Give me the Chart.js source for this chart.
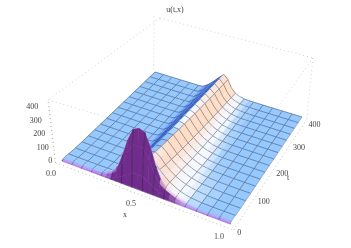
<!DOCTYPE html>
<html>
<head>
<meta charset="utf-8">
<style>
  html, body { margin: 0; padding: 0; background: #fff; }
  #wrap { width: 351px; height: 248px; }
</style>
<script src="https://cdn.jsdelivr.net/npm/chart.js@4"></script>
</head>
<body>
<div id="wrap"><canvas id="surface" width="351" height="248"></canvas></div>
<script>
const titleText = "u(t,x)";
const xLabels = ["0.0", "0.5", "1.0"];
const xLabelValues = [0, 0.5, 1];
const tTicks = [0, 100, 200, 300, 400];
const zTicks = [0, 100, 200, 300, 400];

const xValues = [0, 0.0625, 0.125, 0.1875, 0.25, 0.28125, 0.3125, 0.34375, 0.375, 0.40625, 0.4375, 0.46875, 0.5,
  0.53125, 0.5625, 0.59375, 0.625, 0.65625, 0.6875, 0.71875, 0.75, 0.8125, 0.875, 0.9375, 1];
const tValues = [0, 2, 5, 9, 14, 20, 25, 50, 75, 100, 125, 150, 175, 200, 225, 250, 275, 300, 325, 350, 375, 400];

// u(t,x), one row per entry of tValues
const uRows = [
  [0,0,0,0,0,0,0,0,0,0,0,0,0,0,0,0,0,0,0,0,0,0,0,0,0],
  [3,3,3,4,6,8,12,23,44,71,95,105,95,72,50,32,25,15,10,6,4,3,3,3,3],
  [6,6,6,7,11,18,32,64,130,220,285,301,285,222,138,80,55,38,24,14,9,5,5,6,6],
  [8,8,8,9,12,20,41,89,185,305,395,415,397,305,185,105,62,44,29,18,11,6,7,8,8],
  [8,8,8,8,10,17,36,77,147,242,322,352,327,252,162,108,66,46,30,19,12,6,7,8,8],
  [6,6,6,6,7,11,22,44,84,144,204,244,239,194,144,105,68,47,31,19,12,6,6,6,6],
  [4,4,4,4,5,6,8,16,36,81,146,196,198,170,128,94,66,46,30,19,12,5,4,4,4],
  [1,1,1,1,1,1,2,8,35,80,135,170,178,152,112,82,58,40,27,18,11,4,1,1,1],
  [0,0,0,0,0,0,1,7,33,77,130,165,170,140,102,74,52,35,22,14,8,3,0,0,0],
  [0,0,0,0,0,0,1,6,32,75,126,160,164,130,93,66,45,29,17,10,5,1,0,0,0],
  [0,0,0,0,0,0,1,5,31,74,124,158,158,122,85,58,38,23,13,7,3,1,0,0,0],
  [0,0,0,0,0,0,1,5,31,73,122,156,152,114,78,52,33,19,10,5,2,0,0,0,0],
  [0,0,0,0,0,0,1,5,30,72,120,155,147,108,72,46,28,15,8,3,1,0,0,0,0],
  [0,0,0,0,0,0,0,4,30,71,118,153,142,102,66,41,24,12,6,2,1,0,0,0,0],
  [0,0,0,0,0,0,0,4,30,70,116,151,137,96,61,36,20,10,4,2,0,0,0,0,0],
  [0,0,0,0,0,0,0,4,29,69,114,150,132,90,55,32,17,8,3,1,0,0,0,0,0],
  [0,0,0,0,0,0,0,3,29,68,112,149,128,84,50,28,14,6,2,1,0,0,0,0,0],
  [0,0,0,0,0,0,0,3,29,67,110,148,124,79,45,24,12,5,2,0,0,0,0,0,0],
  [0,0,0,0,0,0,0,3,28,66,108,147,121,74,40,21,10,4,1,0,0,0,0,0,0],
  [0,0,0,0,0,0,0,3,28,65,107,146,118,69,36,18,8,3,1,0,0,0,0,0,0],
  [0,0,0,0,0,0,0,3,28,64,106,145,115,64,31,14,6,2,1,0,0,0,0,0,0],
  [0,0,0,0,0,0,0,3,28,64,105,144,112,58,25,10,3,1,0,0,0,0,0,0,0]
];

// camera: where the corners of the box land, for (x,t) = (0,0) (1,0) (1,400) (0,400)
const floorCorners = [[62, 161], [230, 224], [302, 117], [155, 72]];
const topCorners = [[48, 100], [242, 157], [313, 58], [160, 18]];
const zTop = 450;
const tMax = 400;

function homography(p) {
  const dx1 = p[1][0] - p[2][0], dx2 = p[3][0] - p[2][0], sx = p[0][0] - p[1][0] + p[2][0] - p[3][0];
  const dy1 = p[1][1] - p[2][1], dy2 = p[3][1] - p[2][1], sy = p[0][1] - p[1][1] + p[2][1] - p[3][1];
  const det = dx1 * dy2 - dx2 * dy1;
  const g = (sx * dy2 - dx2 * sy) / det;
  const h = (dx1 * sy - sx * dy1) / det;
  const a = p[1][0] - p[0][0] + g * p[1][0], b = p[3][0] - p[0][0] + h * p[3][0];
  const d = p[1][1] - p[0][1] + g * p[1][1], e = p[3][1] - p[0][1] + h * p[3][1];
  return function (u, v) {
    const w = g * u + h * v + 1;
    return [(a * u + b * v + p[0][0]) / w, (d * u + e * v + p[0][1]) / w];
  };
}
const floorMap = homography(floorCorners);
const topMap = homography(topCorners);

function project(x, t, z) {
  const f = floorMap(x, t / tMax);
  const c = topMap(x, t / tMax);
  const k = z / zTop;
  return { x: f[0] + (c[0] - f[0]) * k, y: f[1] + (c[1] - f[1]) * k };
}

function mix(a, b, k) {
  k = Math.max(0, Math.min(1, k));
  return [a[0] + (b[0] - a[0]) * k, a[1] + (b[1] - a[1]) * k, a[2] + (b[2] - a[2]) * k];
}

// rough stand-in for the lighting, from the slope of the cell
function cellColor(sx, st) {
  let c = [150, 201, 255];
  if (sx > 0) c = mix(c, [70, 125, 250], sx / 1600);
  if (sx < 0) {
    c = mix(c, [244, 249, 255], -sx / 260);
    if (sx < -450) c = mix(c, [255, 222, 200], (-sx - 450) / 650);
  }
  if (st > 0.3) {
    const light = mix([188, 135, 240], [240, 205, 228], -sx / 500);
    const purple = mix(light, [112, 45, 140], (st - 2) / 6);
    c = mix(c, purple, (st - 0.3) / 1.2);
  } else if (st < -0.3) {
    c = mix(c, [225, 225, 250], (-st - 0.3) / 2);
  }
  return "rgb(" + c.map(Math.round).join(",") + ")";
}

function isMeshX(i) { return Number.isInteger(xValues[i] * 16); }
function isMeshT(j) { return tValues[j] % 25 === 0; }

function edge(a, b, color, width) {
  return { type: "scatter", data: [a, b], showLine: true, fill: false, borderColor: color, borderWidth: width,
    pointRadius: 0, tension: 0 };
}

function dotted(a, b, color) {
  const line = edge(a, b, color || "#c8c8c8", 0.8);
  line.borderDash = [1, 3];
  return line;
}

// box behind the surface
const boxX0 = -0.03, boxX1 = 1.03, boxT0 = -8, boxZ0 = -10;
const paintOrder = [
  dotted(project(0, tMax, zTop), project(1, tMax, zTop)),
  dotted(project(0, tMax, zTop), project(0, 0, zTop)),
  dotted(project(0, 0, zTop), project(1, 0, zTop)),
  dotted(project(1, tMax, zTop), project(1, 0, zTop)),
  dotted(project(-0.04, tMax, zTop), project(-0.01, tMax, 0)),
  dotted(project(1, tMax, zTop), project(boxX1, tMax, boxZ0)),
  dotted(project(boxX0, boxT0, boxZ0), project(0, 0, zTop), "#8c8c8c"),
  dotted(project(boxX0, boxT0, boxZ0), project(boxX1, boxT0, boxZ0), "#b0b0b0"),
  dotted(project(boxX1, boxT0, boxZ0), project(boxX1, tMax, boxZ0), "#b0b0b0")
];

const meshColor = "rgba(28,28,50,0.62)";
// far cells first
for (let j = tValues.length - 2; j >= 0; j--) {
  for (let i = 0; i < xValues.length - 1; i++) {
    const u00 = uRows[j][i], u10 = uRows[j][i + 1], u11 = uRows[j + 1][i + 1], u01 = uRows[j + 1][i];
    const x0 = xValues[i], x1 = xValues[i + 1], t0 = tValues[j], t1 = tValues[j + 1];
    const p00 = project(x0, t0, u00), p10 = project(x1, t0, u10), p11 = project(x1, t1, u11), p01 = project(x0, t1, u01);
    const sx = ((u10 + u11) - (u00 + u01)) / 2 / (x1 - x0);
    const st = ((u01 + u11) - (u00 + u10)) / 2 / (t1 - t0);
    const color = cellColor(sx, st);
    paintOrder.push({ type: "scatter", data: [p00, p10, p11, p01, p00], showLine: true, fill: "shape",
      backgroundColor: color, borderColor: color, borderWidth: 0.5, pointRadius: 0, tension: 0 });
    if (isMeshT(j + 1)) paintOrder.push(edge(p01, p11, meshColor, 0.65));
    if (isMeshX(i)) paintOrder.push(edge(p00, p01, meshColor, 0.65));
    if (j === 0) paintOrder.push(edge(p00, p10, "rgba(110,110,190,0.6)", 0.6));
    if (i === xValues.length - 2) paintOrder.push(edge(p10, p11, "rgba(90,90,120,0.5)", 0.6));
  }
}

const labelPlugin = {
  id: "axisText",
  afterDraw(chart) {
    const ctx = chart.ctx;
    const sx = chart.scales.x, sy = chart.scales.y;
    function put(text, p, dx, dy, align) {
      ctx.textAlign = align;
      ctx.fillText(text, sx.getPixelForValue(p.x) + dx, sy.getPixelForValue(p.y) + dy);
    }
    ctx.save();
    ctx.font = "8px 'Liberation Serif'";
    ctx.fillStyle = "#444";
    ctx.textBaseline = "middle";
    put(titleText, { x: 175, y: 10 }, 0, 0, "center");
    zTicks.forEach((z) => put(String(z), project(boxX0, boxT0, z), -3, 0, "right"));
    xLabels.forEach((s, i) => put(s, project(xLabelValues[i], boxT0, boxZ0), -9, 9, "center"));
    tTicks.forEach((t) => put(String(t), project(boxX1, t, boxZ0), 2, 5, "left"));
    put("x", project(0.5, boxT0, boxZ0), -15, 20, "center");
    put("t", project(boxX1, 200, boxZ0), 14, 9, "center");
    ctx.restore();
  },
};

new Chart(document.getElementById("surface"), {
  type: "scatter",
  // chart.js paints the first dataset last
  data: { datasets: paintOrder.reverse() },
  plugins: [labelPlugin],
  options: {
    responsive: false,
    animation: false,
    layout: { padding: 0 },
    scales: {
      x: { type: "linear", min: 0, max: 351, display: false },
      y: { type: "linear", min: 0, max: 248, reverse: true, display: false },
    },
    plugins: { legend: { display: false }, tooltip: { enabled: false } },
  },
});
</script>
</body>
</html>
